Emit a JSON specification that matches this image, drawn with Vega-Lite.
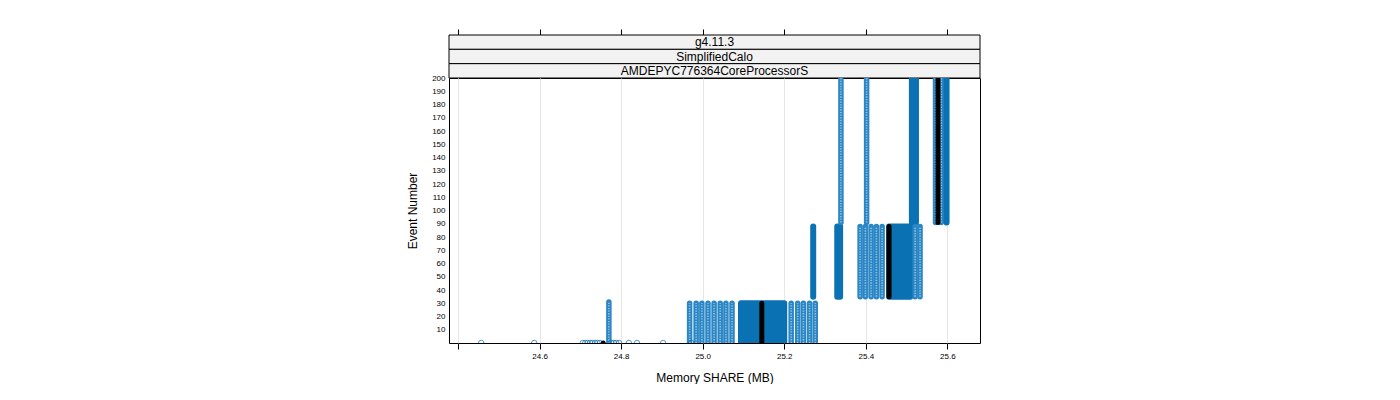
{
  "$schema": "https://vega.github.io/schema/vega-lite/v6.json",
  "padding": {"left": 406, "top": 28, "right": 0, "bottom": 0},
  "background": "white",
  "bounds": "flush",
  "config": {
    "font": "Liberation Sans",
    "view": {"stroke": null},
    "axis": {"labelColor": "#000", "titleColor": "#000", "tickColor": "#000", "domainColor": "#000", "titleFontWeight": "normal"}
  },
  "spacing": 0,
  "vconcat": [
    {
      "width": 531,
      "height": 43,
      "data": {"values": [
        {"strip": "g4.11.3", "k": 1},
        {"strip": "SimplifiedCalo", "k": 2},
        {"strip": "AMDEPYC776364CoreProcessorS", "k": 3}
      ]},
      "layer": [
        {
          "mark": {"type": "rect", "fill": "#f2f2f2", "stroke": "#000", "strokeWidth": 1},
          "encoding": {
            "y": {"field": "k", "type": "ordinal", "axis": null, "scale": {"paddingInner": 0, "paddingOuter": 0}},
            "x": {"datum": 24.378, "type": "quantitative",
                  "scale": {"domain": [24.378, 25.68], "nice": false, "zero": false},
                  "axis": {"orient": "top", "values": [24.4, 24.6, 24.8, 25.0, 25.2, 25.4, 25.6], "labels": false, "domain": false, "ticks": true, "tickSize": 6, "grid": false, "title": null}},
            "x2": {"datum": 25.68}
          }
        },
        {
          "mark": {"type": "text", "fontSize": 12, "color": "#000", "baseline": "middle"},
          "encoding": {
            "y": {"field": "k", "type": "ordinal", "axis": null, "scale": {"paddingInner": 0, "paddingOuter": 0}},
            "x": {"datum": 25.029, "type": "quantitative"},
            "text": {"field": "strip"}
          }
        }
      ]
    },
    {
      "width": 531,
      "height": 265,
      "view": {"stroke": "#000", "strokeWidth": 1},
      "data": {"values": [
        {"kind": "block", "mem": 25.094, "mem2": 25.200, "ev": 0, "ev2": 30},
        {"kind": "block", "mem": 25.330, "mem2": 25.337, "ev": 35, "ev2": 88},
        {"kind": "block", "mem": 25.457, "mem2": 25.509, "ev": 35, "ev2": 88},
        {"kind": "block", "mem": 25.513, "mem2": 25.523, "ev": 91, "ev2": 200},
        {"kind": "light", "mem": 24.770, "ev": 0, "ev2": 31},
        {"kind": "light", "mem": 24.968, "ev": 0, "ev2": 30},
        {"kind": "light", "mem": 24.984, "ev": 0, "ev2": 30},
        {"kind": "light", "mem": 24.998, "ev": 0, "ev2": 30},
        {"kind": "light", "mem": 25.013, "ev": 0, "ev2": 30},
        {"kind": "light", "mem": 25.028, "ev": 0, "ev2": 30},
        {"kind": "light", "mem": 25.043, "ev": 0, "ev2": 30},
        {"kind": "light", "mem": 25.057, "ev": 0, "ev2": 30},
        {"kind": "light", "mem": 25.072, "ev": 0, "ev2": 30},
        {"kind": "light", "mem": 25.217, "ev": 0, "ev2": 30},
        {"kind": "light", "mem": 25.233, "ev": 0, "ev2": 30},
        {"kind": "light", "mem": 25.247, "ev": 0, "ev2": 30},
        {"kind": "light", "mem": 25.262, "ev": 0, "ev2": 30},
        {"kind": "light", "mem": 25.276, "ev": 0, "ev2": 30},
        {"kind": "light", "mem": 25.386, "ev": 35, "ev2": 88},
        {"kind": "light", "mem": 25.399, "ev": 35, "ev2": 88},
        {"kind": "light", "mem": 25.413, "ev": 35, "ev2": 88},
        {"kind": "light", "mem": 25.426, "ev": 35, "ev2": 88},
        {"kind": "light", "mem": 25.440, "ev": 35, "ev2": 88},
        {"kind": "light", "mem": 25.521, "ev": 35, "ev2": 88},
        {"kind": "light", "mem": 25.533, "ev": 35, "ev2": 88},
        {"kind": "light", "mem": 25.339, "ev": 91, "ev2": 200},
        {"kind": "light", "mem": 25.402, "ev": 91, "ev2": 200},
        {"kind": "light", "mem": 25.571, "ev": 91, "ev2": 200},
        {"kind": "light", "mem": 25.585, "ev": 91, "ev2": 200},
        {"kind": "solid", "mem": 25.271, "ev": 35, "ev2": 88},
        {"kind": "solid", "mem": 25.598, "ev": 91, "ev2": 200},
        {"kind": "black", "mem": 25.145, "ev": 0, "ev2": 30},
        {"kind": "black", "mem": 25.457, "ev": 35, "ev2": 88},
        {"kind": "black", "mem": 25.577, "ev": 91, "ev2": 200},
        {"kind": "blackpt", "mem": 24.756, "ev": 0},
        {"kind": "pt", "mem": 24.457, "ev": 0},
        {"kind": "pt", "mem": 24.587, "ev": 0},
        {"kind": "pt", "mem": 24.706, "ev": 0},
        {"kind": "pt", "mem": 24.712, "ev": 0},
        {"kind": "pt", "mem": 24.718, "ev": 0},
        {"kind": "pt", "mem": 24.724, "ev": 0},
        {"kind": "pt", "mem": 24.729, "ev": 0},
        {"kind": "pt", "mem": 24.736, "ev": 0},
        {"kind": "pt", "mem": 24.742, "ev": 0},
        {"kind": "pt", "mem": 24.748, "ev": 0},
        {"kind": "pt", "mem": 24.776, "ev": 0},
        {"kind": "pt", "mem": 24.782, "ev": 0},
        {"kind": "pt", "mem": 24.788, "ev": 0},
        {"kind": "pt", "mem": 24.795, "ev": 0},
        {"kind": "pt", "mem": 24.819, "ev": 0},
        {"kind": "pt", "mem": 24.839, "ev": 0},
        {"kind": "pt", "mem": 24.903, "ev": 0},
        {"kind": "pt", "mem": 24.972, "ev": 0}
      ]},
      "encoding": {
        "x": {"field": "mem", "type": "quantitative",
              "scale": {"domain": [24.378, 25.68], "nice": false, "zero": false},
              "axis": {"values": [24.4, 24.6, 24.8, 25.0, 25.2, 25.4, 25.6],
                       "labelExpr": "datum.value < 24.5 ? '' : format(datum.value, '.1f')",
                       "labelFontSize": 8, "tickSize": 6, "domain": false, "grid": true,
                       "gridColor": "#e6e6e6", "labelPadding": 3,
                       "title": "Memory SHARE (MB)", "titleFontSize": 12, "titlePadding": 12}},
        "y": {"field": "ev", "type": "quantitative",
              "scale": {"domain": [0, 200], "nice": false, "zero": false},
              "axis": {"values": [10, 20, 30, 40, 50, 60, 70, 80, 90, 100, 110, 120, 130, 140, 150, 160, 170, 180, 190, 200],
                       "labelFontSize": 8, "ticks": false, "tickSize": 0, "domain": false, "grid": false,
                       "labelPadding": 4, "title": "Event Number", "titleFontSize": 12, "titlePadding": 12}}
      },
      "layer": [
        {
          "transform": [{"filter": "datum.kind === 'block'"}],
          "mark": {"type": "rect", "color": "#0a72b2", "stroke": "#0a72b2", "strokeWidth": 6, "strokeJoin": "round", "clip": true},
          "encoding": {"x2": {"field": "mem2"}, "y2": {"field": "ev2"}}
        },
        {
          "transform": [{"filter": "datum.kind === 'light'"}],
          "mark": {"type": "rule", "color": "#2a86c4", "strokeWidth": 5.5, "strokeCap": "round", "clip": true},
          "encoding": {"y2": {"field": "ev2"}}
        },
        {
          "transform": [{"filter": "datum.kind === 'light'"}],
          "mark": {"type": "rule", "color": "#ffffff", "opacity": 0.5, "strokeWidth": 1.6, "strokeDash": [1.3, 1.3], "clip": true},
          "encoding": {"y2": {"field": "ev2"}}
        },
        {
          "transform": [{"filter": "datum.kind === 'solid'"}],
          "mark": {"type": "rule", "color": "#0a72b2", "strokeWidth": 6, "strokeCap": "round", "clip": true},
          "encoding": {"y2": {"field": "ev2"}}
        },
        {
          "transform": [{"filter": "datum.kind === 'pt'"}],
          "mark": {"type": "point", "shape": "circle", "filled": false, "color": "#0a72b2", "size": 30, "strokeWidth": 1, "clip": true},
          "encoding": {}
        },
        {
          "transform": [{"filter": "datum.kind === 'black'"}],
          "mark": {"type": "rule", "color": "#000000", "strokeWidth": 5, "strokeCap": "round", "clip": true},
          "encoding": {"y2": {"field": "ev2"}}
        },
        {
          "transform": [{"filter": "datum.kind === 'blackpt'"}],
          "mark": {"type": "point", "shape": "circle", "filled": true, "color": "#000000", "opacity": 1, "size": 25, "clip": true},
          "encoding": {}
        }
      ]
    }
  ]
}
